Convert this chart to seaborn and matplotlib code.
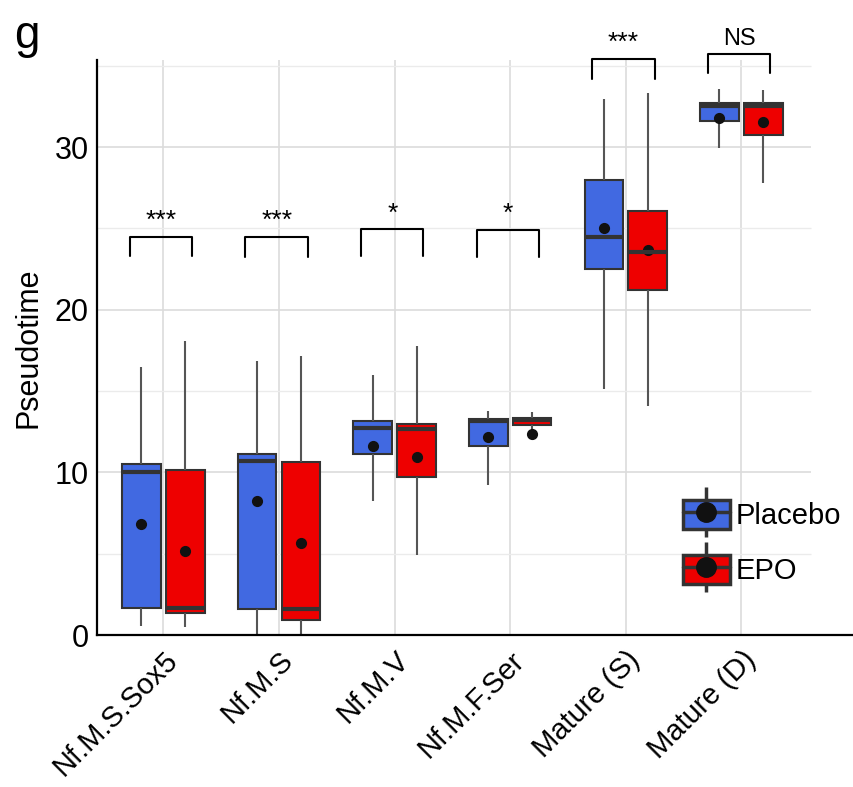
import numpy as np
import pandas as pd
import seaborn as sns
import matplotlib.pyplot as plt
from matplotlib.patches import Patch
from matplotlib.lines import Line2D

sns.set_theme(style='white')
plt.rcParams['font.family'] = ['Liberation Sans', 'DejaVu Sans']
plt.rcParams['text.color'] = 'black'

cells = ['Nf.M.S.Sox5', 'Nf.M.S', 'Nf.M.V', 'Nf.M.F.Ser', 'Mature (S)', 'Mature (D)']
groups = ['Placebo', 'EPO']
colors = {'Placebo': '#4169E1', 'EPO': '#EE0000'}

# five-number summaries (per cell type)
placebo_low = [0.57, 0.0, 8.24, 9.22, 15.10, 29.91]
placebo_q1 = [1.64, 1.60, 11.14, 11.64, 22.48, 31.59]
placebo_med = [10.04, 10.69, 12.74, 13.13, 24.48, 32.53]
placebo_q3 = [10.49, 11.14, 13.13, 13.30, 27.98, 32.72]
placebo_high = [16.49, 16.84, 15.98, 13.77, 32.94, 33.58]
placebo_mean = [6.80, 8.24, 11.60, 12.17, 25.02, 31.80]

epo_low = [0.51, 0.0, 4.92, 12.60, 14.09, 27.78]
epo_q1 = [1.35, 0.94, 9.73, 12.89, 21.20, 30.73]
epo_med = [1.64, 1.60, 12.66, 13.19, 23.52, 32.49]
epo_q3 = [10.12, 10.63, 12.99, 13.34, 26.08, 32.72]
epo_high = [18.09, 17.15, 17.74, 13.71, 33.33, 33.50]
epo_mean = [5.16, 5.65, 10.94, 12.37, 23.66, 31.51]

sig_labels = ['***', '***', '*', '*', '***', 'NS']
sig_top = [24.48, 24.46, 24.93, 24.91, 35.40, 35.73]
sig_leg = [23.29, 23.25, 23.29, 23.25, 34.19, 34.52]

rows = []
summaries = {'Placebo': [placebo_low, placebo_q1, placebo_med, placebo_q3, placebo_high],
             'EPO': [epo_low, epo_q1, epo_med, epo_q3, epo_high]}
for g in groups:
    for i, c in enumerate(cells):
        for s in summaries[g]:
            rows.append({'cell': c, 'group': g, 'Pseudotime': s[i]})
box_df = pd.DataFrame(rows)

mean_df = pd.DataFrame({
    'cell': cells * 2,
    'group': ['Placebo'] * 6 + ['EPO'] * 6,
    'Pseudotime': placebo_mean + epo_mean,
})

fig = plt.figure(figsize=(8.54, 7.87), dpi=100)
ax = fig.add_axes([0.1136, 0.1931, 0.8841, 0.7307])

xmin, xmax = -0.574, 5.957
ymax = 35.35

# panel grid
ax.vlines(range(len(cells)), 0, ymax, color='#d9d9d9', lw=1.1, zorder=0)
ax.hlines([10, 20, 30], xmin, 5.6, color='#dcdcdc', lw=1.2, zorder=0)
ax.hlines([5, 15, 25, 35], xmin, 5.6, color='#ebebeb', lw=1.0, zorder=0)

sns.boxplot(data=box_df, x='cell', y='Pseudotime', hue='group', order=cells,
            hue_order=groups, palette=colors, width=0.76, gap=0.12,
            whis=(0, 100), showfliers=False, showcaps=False, saturation=1,
            linewidth=1.5, linecolor='#333333',
            medianprops=dict(color='#333333', linewidth=3),
            whiskerprops=dict(color='#555555', linewidth=1.5),
            legend=False, ax=ax)

sns.pointplot(data=mean_df, x='cell', y='Pseudotime', hue='group', order=cells,
              hue_order=groups, palette={'Placebo': '#111111', 'EPO': '#111111'},
              dodge=0.38, linestyle='none', marker='o', markersize=6,
              errorbar=None, legend=False, ax=ax)

# significance brackets
for i, lab in enumerate(sig_labels):
    xl, xr = i - 0.29, i + 0.25
    ax.plot([xl, xl, xr, xr], [sig_leg[i], sig_top[i], sig_top[i], sig_leg[i]],
            color='black', lw=1.5, clip_on=False, zorder=5)
    fs = 17 if lab == 'NS' else 19
    ax.text((xl + xr) / 2, sig_top[i] + 0.25, lab, ha='center', va='bottom',
            fontsize=fs, color='black', clip_on=False)

ax.set_xlim(xmin, xmax)
ax.set_ylim(0, ymax)
ax.set_yticks([0, 10, 20, 30])
ax.set_xticks(range(len(cells)))
ax.set_xticklabels(cells, rotation=45, ha='right', va='top', rotation_mode='anchor')
ax.tick_params(axis='both', length=0, labelsize=22, colors='black')
ax.tick_params(axis='x', pad=8, labelsize=21)
ax.tick_params(axis='y', pad=6)
ax.set_xlabel('')
ax.set_ylabel('Pseudotime', fontsize=22, color='black', labelpad=8)

for side in ['top', 'right']:
    ax.spines[side].set_visible(False)
for side in ['left', 'bottom']:
    ax.spines[side].set_color('black')
    ax.spines[side].set_linewidth(1.6)

# legend with boxplot-like keys
handles = []
for g in groups:
    whisk = Line2D([], [], color='#333333', marker='|', markersize=36,
                   markeredgewidth=2.5, linestyle='none')
    box = Patch(facecolor=colors[g], edgecolor='#333333', linewidth=2.5)
    med = Line2D([], [], color='#333333', linewidth=2.5, marker='o', markersize=14,
                 markerfacecolor='#111111', markeredgecolor='#111111')
    handles.append((whisk, box, med))
leg = ax.legend(handles, groups, loc='upper left', bbox_to_anchor=(0.776, 0.235),
                frameon=False, fontsize=21, numpoints=1, handlelength=1.6,
                handleheight=1.15, labelspacing=0.85, handletextpad=0.2, borderpad=0,
                borderaxespad=0)
for t in leg.get_texts():
    t.set_color('black')

fig.text(0.017, 0.982, 'g', fontsize=33, va='top', ha='left', color='black')

fig.savefig('out.png', dpi=100)
